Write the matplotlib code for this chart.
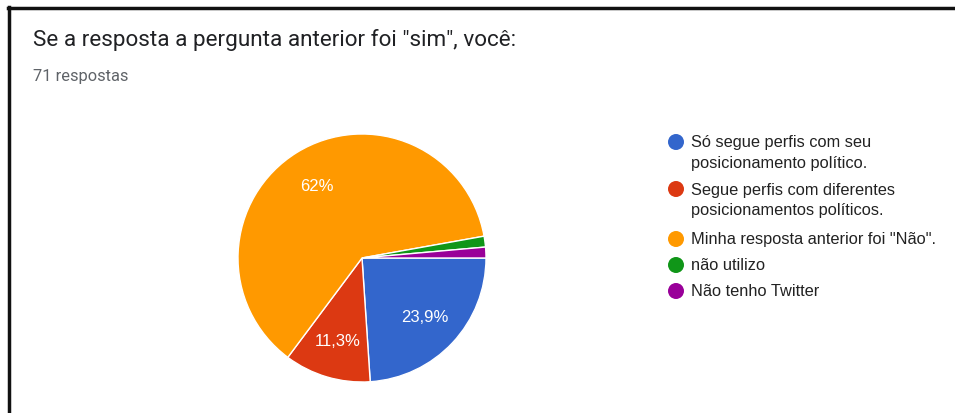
import matplotlib
matplotlib.use('Agg')
import matplotlib.pyplot as plt
from matplotlib.lines import Line2D
from matplotlib.patches import Circle

TITLE = 'Se a resposta a pergunta anterior foi "sim", você:'
SUBTITLE = '71 respostas'

labels = [
    'Só segue perfis com seu\nposicionamento político.',
    'Segue perfis com diferentes\nposicionamentos políticos.',
    'Minha resposta anterior foi "Não".',
    'não utilizo',
    'Não tenho Twitter',
]
counts = [17, 8, 44, 1, 1]
colors = ['#3366cc', '#dc3912', '#ff9900', '#109618', '#990099']

W, H = 955, 414
plt.rcParams['font.family'] = ['Roboto', 'DejaVu Sans']
CHART_FONT = ['Liberation Sans', 'DejaVu Sans']


def pct_label(p):
    if p < 5:
        return ''
    s = f'{p:.1f}'
    if s.endswith('.0'):
        s = s[:-2]
    return s.replace('.', ',') + '%'


fig = plt.figure(figsize=(W / 100, H / 100), dpi=100)
fig.patch.set_facecolor('white')

# pie: centre ~(362, 259) px, radius ~124 px
cx, cy, r = 362, 259, 124
ax = fig.add_axes([(cx - r) / W, (H - cy - r) / H, 2 * r / W, 2 * r / H])
wedges, _, autotexts = ax.pie(
    counts, colors=colors, startangle=0, counterclock=False,
    autopct=pct_label, pctdistance=0.69, radius=1,
    wedgeprops=dict(edgecolor='white', linewidth=1),
    textprops=dict(color='white', fontsize=12, family=CHART_FONT))
ax.set_xlim(-1, 1)
ax.set_ylim(-1, 1)
ax.set_aspect('equal')
ax.axis('off')

# title block
fig.text(33 / W, 1 - 40 / H, TITLE, fontsize=16.2, color='#202124', va='center', ha='left')
fig.text(33 / W, 1 - 77 / H, SUBTITLE, fontsize=11.8, color='#5f6368', va='center', ha='left')

# legend drawn by hand: dot + wrapped label
rows = [143, 190, 240, 266, 292]
line_h = 21
for y, lab, col in zip(rows, labels, colors):
    fig.patches.append(Circle((676, H - y), 8, transform=None, facecolor=col,
                              edgecolor='none'))
    for k, part in enumerate(lab.split('\n')):
        fig.text(691 / W, 1 - (y + k * line_h) / H, part, fontsize=11.8,
                 color='#222222', va='center', ha='left', family=CHART_FONT)

# frame around the card (top and left edges)
fig.add_artist(Line2D([8 / W, 1], [1 - 9 / H, 1 - 9 / H], color='#111111', lw=2.5))
fig.add_artist(Line2D([9 / W, 9 / W], [0, 1 - 8 / H], color='#111111', lw=2.5))

fig.savefig('out.png', dpi=100, facecolor='white')
